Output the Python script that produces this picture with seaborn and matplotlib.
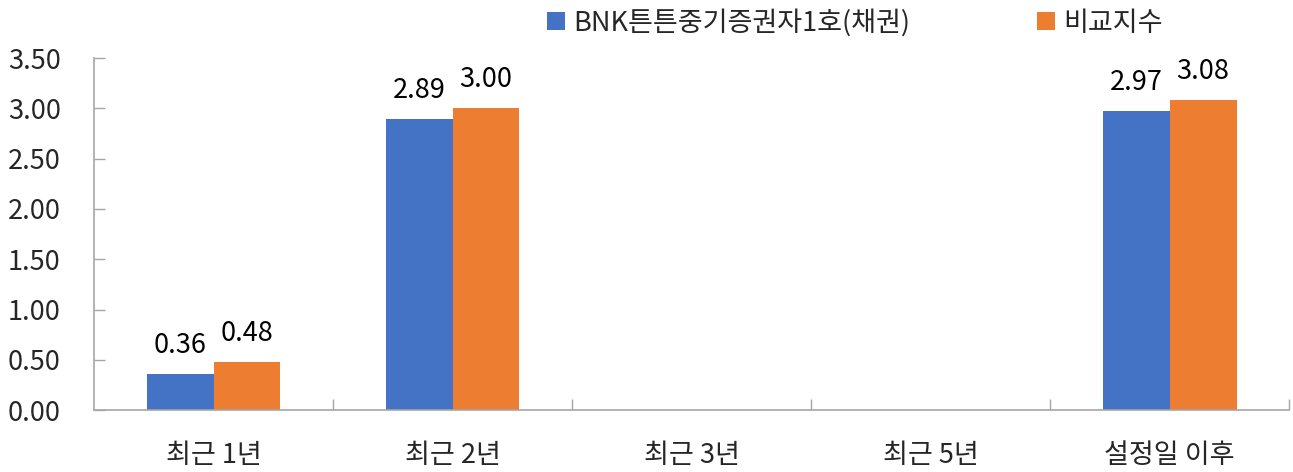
import numpy as np
import pandas as pd
import seaborn as sns
import matplotlib.pyplot as plt
from matplotlib.ticker import FixedLocator

# 데이터
categories = ['최근 1년', '최근 2년', '최근 3년', '최근 5년', '설정일 이후']
fund_name = 'BNK튼튼중기증권자1호(채권)'
bench_name = '비교지수'
fund_values = [0.36, 2.89, np.nan, np.nan, 2.97]
bench_values = [0.48, 3.00, np.nan, np.nan, 3.08]
y_ticks = [0.0, 0.5, 1.0, 1.5, 2.0, 2.5, 3.0, 3.5]

df = pd.DataFrame({
    'period': categories * 2,
    'series': [fund_name] * len(categories) + [bench_name] * len(categories),
    'value': fund_values + bench_values,
})

sns.set_theme(style='white')
plt.rcParams['font.family'] = ['Noto Sans CJK KR', 'DejaVu Sans']
fs = 19.5

fig, ax = plt.subplots(figsize=(12.93, 4.72), dpi=100)
fig.subplots_adjust(left=0.0727, right=0.997, bottom=0.131, top=0.877)

palette = {fund_name: '#4472C4', bench_name: '#ED7D31'}
sns.barplot(data=df.dropna(), x='period', y='value', hue='series', order=categories,
            hue_order=[fund_name, bench_name], palette=palette, width=0.56, gap=0,
            saturation=1, linewidth=0, ax=ax, legend=True)

# 값 라벨
for p in ax.patches:
    h = p.get_height()
    if np.isnan(h) or p.get_width() == 0:
        continue
    ax.annotate(f'{h:.2f}', (p.get_x() + p.get_width() / 2, h), xytext=(0, 11),
                textcoords='offset points', ha='center', va='bottom', fontsize=fs, color='#000000')

ax.set_xlim(-0.5, len(categories) - 0.5)
ax.set_ylim(0, 3.5)
ax.set_yticks(y_ticks)
ax.set_yticklabels([f'{v:.2f}' for v in y_ticks], fontsize=fs)
ax.set_xlabel('')
ax.set_ylabel('')

# 축 스타일
for s in ['top', 'right']:
    ax.spines[s].set_visible(False)
for s in ['left', 'bottom']:
    ax.spines[s].set_color('#a6a6a6')
    ax.spines[s].set_linewidth(1.2)

ax.tick_params(axis='y', direction='in', length=8, color='#a6a6a6', width=1, pad=24, left=True)
ax.tick_params(axis='x', which='major', length=0, pad=23, labelsize=fs)
ax.xaxis.set_minor_locator(FixedLocator([i + 0.5 for i in range(len(categories))]))
ax.tick_params(axis='x', which='minor', direction='in', length=8, color='#a6a6a6', width=1, bottom=True)

# 범례
handles, labels = ax.get_legend_handles_labels()
ax.legend(handles, labels, loc='upper left', bbox_to_anchor=(0.37, 1.17), ncol=2, frameon=False,
          fontsize=fs, handlelength=0.65, handleheight=0.65, handletextpad=0.3, columnspacing=4.7,
          borderaxespad=0)

plt.savefig('out.png', dpi=100)
